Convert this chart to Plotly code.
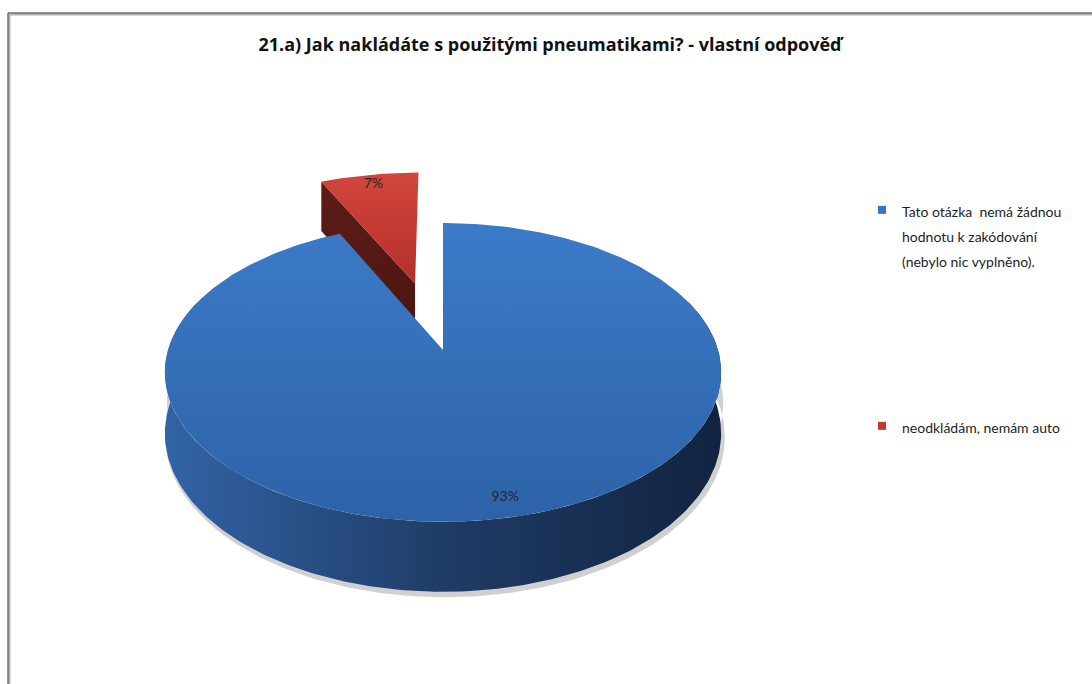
import numpy as np
import plotly.graph_objects as go

# --- chart data -------------------------------------------------------------
title_text = "21.a) Jak nakládáte s použitými pneumatikami? - vlastní odpověď"
categories = [
    "Tato otázka  nemá žádnou<br>hodnotu k zakódování<br>(nebylo nic vyplněno).",
    "neodkládám, nemám auto",
]
shares = [93, 7]
explode = [0.0, 0.5]

# --- styling ----------------------------------------------------------------
# vertical gradients run bottom (0) -> top (1)
top_colors = [("#2d62a7", "#3c7bc8"), ("#b42f29", "#d2463c")]
side_colors = [("#3164a6", "#1f3c66", "#122340"), ("#7a231d", "#5a1a15", "#3a0f0c")]
wall_colors = [("#142a4a", "#1f3f6c"), ("#4a1511", "#5e1c17")]
legend_colors = ["#3a74be", "#c0392f"]
FONT = "Lato"

W, Hpx = 1092, 684
CX, CY = 443, 350          # pie centre on the page
RX, RY = 275, 146          # top-face radii
K = 0.15                   # perspective strength
DEPTH = 59.5               # thickness of the pie
LABEL_R = 0.9


def proj(u, v, drop=0.0):
    u = np.asarray(u, dtype=float)
    v = np.asarray(v, dtype=float)
    w = 1.0 / (1.0 - K * v)
    return CX + RX * u * w, CY + RY * v * w + drop * DEPTH * w


fig = go.Figure()

total = float(sum(shares))
bounds = np.concatenate([[0.0], np.cumsum(shares) / total * 2 * np.pi])
slices = []
for i, s in enumerate(shares):
    a0, a1 = bounds[i], bounds[i + 1]
    mid = 0.5 * (a0 + a1)
    ou, ov = explode[i] * np.sin(mid), -explode[i] * np.cos(mid)
    slices.append((i, a0, a1, mid, ou, ov))

# soft shadow under the near rim of the pie
t = np.linspace(np.radians(60), np.radians(300), 240)
xs, ys = proj(np.sin(t) * 1.006, -np.cos(t) * 1.006, drop=1.06)
xs2, ys2 = proj(np.sin(t[::-1]), -np.cos(t[::-1]), drop=0.5)
fig.add_trace(go.Scatter(
    x=np.concatenate([xs, xs2, xs[:1]]) + 2, y=np.concatenate([ys, ys2, ys[:1]]),
    mode="lines", line=dict(width=0), fill="toself", fillcolor="rgba(120,120,120,0.35)",
    hoverinfo="skip", showlegend=False))

# paint far slices first
slices.sort(key=lambda s_: -np.cos(s_[3]))

label_x, label_y, label_t = [], [], []
for i, a0, a1, mid, ou, ov in slices:
    # radial cut faces that turn towards the viewer
    for a, sign in ((a0, -1), (a1, 1)):
        nv = -np.cos(a + sign * np.pi / 2)
        if nv > 0.02:
            eu, ev = ou + np.sin(a), ov - np.cos(a)
            xs_t, ys_t = proj([ou, eu], [ov, ev])
            xs_b, ys_b = proj([eu, ou], [ev, ov], drop=1)
            fig.add_trace(go.Scatter(
                x=list(xs_t) + list(xs_b) + [xs_t[0]],
                y=list(ys_t) + list(ys_b) + [ys_t[0]],
                mode="lines", line=dict(width=0), fill="toself",
                fillgradient=dict(type="vertical",
                                  colorscale=[[0, wall_colors[i][0]], [1, wall_colors[i][1]]]),
                hoverinfo="skip", showlegend=False))

    # outer rim on the near side
    lo, hi = max(a0, np.radians(70)), min(a1, np.radians(290))
    if hi > lo:
        t = np.linspace(lo, hi, 240)
        u, v = ou + np.sin(t), ov - np.cos(t)
        xt, yt = proj(u, v)
        xb, yb = proj(u[::-1], v[::-1], drop=1)
        c = side_colors[i]
        fig.add_trace(go.Scatter(
            x=np.concatenate([xt, xb, xt[:1]]), y=np.concatenate([yt, yb, yt[:1]]),
            mode="lines", line=dict(width=0), fill="toself",
            fillgradient=dict(type="horizontal",
                              colorscale=[[0, c[0]], [0.5, c[1]], [1, c[2]]]),
            hoverinfo="skip", showlegend=False))

    # top face
    t = np.linspace(a0, a1, 400)
    u = np.concatenate([[ou], ou + np.sin(t), [ou]])
    v = np.concatenate([[ov], ov - np.cos(t), [ov]])
    xt, yt = proj(u, v)
    fig.add_trace(go.Scatter(
        x=xt, y=yt, mode="lines", line=dict(width=0), fill="toself",
        fillgradient=dict(type="vertical",
                          colorscale=[[0, top_colors[i][0]], [1, top_colors[i][1]]]),
        hoverinfo="skip", showlegend=False))

    lx, ly = proj(ou + LABEL_R * np.sin(mid), ov - LABEL_R * np.cos(mid))
    label_x.append(float(lx))
    label_y.append(float(ly))
    label_t.append(f"{shares[i]}%")

fig.add_trace(go.Scatter(
    x=label_x, y=label_y, mode="text", text=label_t,
    textfont=dict(family=FONT, size=14, color="#262626"),
    hoverinfo="skip", showlegend=False))

# legend entries
legend_pos = [(862, 191), (862, 407)]
for i, name in enumerate(categories):
    lg = "legend" if i == 0 else f"legend{i + 1}"
    fig.add_trace(go.Scatter(
        x=[None], y=[None], mode="markers", name=f'<span style="font-size:14px">{name}</span>',
        marker=dict(symbol="square", size=8, color=legend_colors[i]),
        legend=lg, hoverinfo="skip"))

legend_common = dict(font=dict(family=FONT, size=19, color="#1e1e1e"),
                     bgcolor="rgba(0,0,0,0)", xanchor="left", yanchor="top",
                     valign="top", itemclick=False, itemdoubleclick=False)
fig.update_layout(
    legend=dict(x=legend_pos[0][0] / W, y=1 - legend_pos[0][1] / Hpx, **legend_common),
    legend2=dict(x=legend_pos[1][0] / W, y=1 - legend_pos[1][1] / Hpx, **legend_common),
)

# frame
shapes = [
    dict(type="line", xref="paper", yref="paper", x0=9.5 / W, x1=1, y0=1 - 14.5 / Hpx, y1=1 - 14.5 / Hpx,
         line=dict(color="#b4b4b4", width=2)),
    dict(type="line", xref="paper", yref="paper", x0=9.5 / W, x1=9.5 / W, y0=0, y1=1 - 14.5 / Hpx,
         line=dict(color="#b4b4b4", width=2)),
    dict(type="line", xref="paper", yref="paper", x0=8 / W, x1=1, y0=1 - 13 / Hpx, y1=1 - 13 / Hpx,
         line=dict(color="#2a2a2a", width=1)),
    dict(type="line", xref="paper", yref="paper", x0=8 / W, x1=8 / W, y0=0, y1=1 - 13 / Hpx,
         line=dict(color="#2a2a2a", width=1)),
]

fig.update_layout(
    width=W, height=Hpx,
    margin=dict(l=0, r=0, t=0, b=0),
    paper_bgcolor="white", plot_bgcolor="white",
    xaxis=dict(range=[0, W], visible=False, fixedrange=True),
    yaxis=dict(range=[Hpx, 0], visible=False, fixedrange=True),
    title=dict(text=f"<b>{title_text}</b>", x=550 / W, xanchor="center",
               y=1 - 45 / Hpx, yanchor="middle",
               font=dict(family="Open Sans", size=18, color="#111111")),
    shapes=shapes,
    showlegend=True,
)

fig.write_html("out.html")
